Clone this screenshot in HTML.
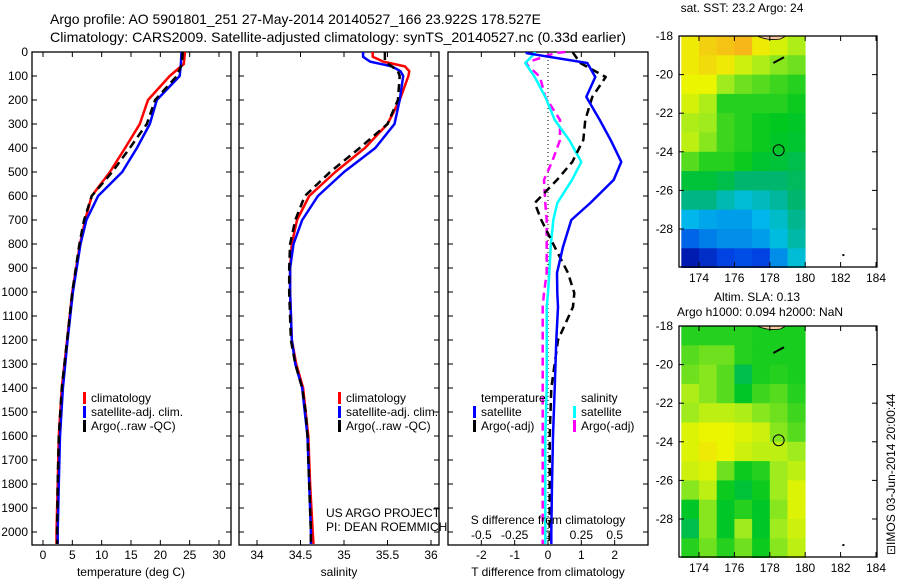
<!DOCTYPE html>
<html><head><meta charset="utf-8">
<style>
body{margin:0;background:#fff;}
svg{display:block;font-family:"Liberation Sans",sans-serif;}
</style></head>
<body>
<svg id="c" width="900" height="580" viewBox="0 0 900 580" xmlns="http://www.w3.org/2000/svg">
<text x="50" y="24" font-size="14" textLength="491" lengthAdjust="spacingAndGlyphs">Argo profile: AO 5901801_251 27-May-2014 20140527_166 23.922S 178.527E</text>
<text x="50" y="42" font-size="14" textLength="576" lengthAdjust="spacingAndGlyphs">Climatology: CARS2009. Satellite-adjusted climatology: synTS_20140527.nc (0.33d earlier)</text>
<text x="742" y="12" font-size="12" text-anchor="middle">sat. SST: 23.2 Argo: 24</text>
<text x="757" y="301" font-size="12" text-anchor="middle">Altim. SLA: 0.13</text>
<text x="760" y="316" font-size="12" text-anchor="middle">Argo h1000: 0.094 h2000: NaN</text>
<text x="0" y="0" font-size="12" transform="translate(895,555) rotate(-90)">⊡IMOS 03-Jun-2014 20:00:44</text>
<text x="326" y="517" font-size="12">US ARGO PROJECT</text>
<text x="326" y="531" font-size="12">PI: DEAN ROEMMICH</text>
<g id="g"></g>
</svg>
<script>
// ---- data ----
const depthT = [0,50,100,200,300,400,500,600,700,800,1000,1200,1400,1600,1800,2000,2050];
const tempClim = [24.2,24.0,21.6,17.9,16.5,14.0,11.4,8.3,7.2,6.3,5.0,4.1,3.2,2.7,2.5,2.3,2.3];
const tempSat  = [23.6,23.5,23.3,19.4,18.2,16.0,13.5,9.4,7.4,6.4,5.1,4.2,3.4,2.9,2.7,2.5,2.5];
const tempArgo = [23.8,23.7,22.8,19.1,17.7,14.8,11.8,8.3,7.0,6.2,5.0,4.1,3.2,2.7,2.5,2.4,2.4];
const depthS = [0,20,40,60,80,100,200,300,400,500,600,700,800,900,1000,1200,1300,1400,1500,1600,1800,2000,2050];
const salClim = [35.33,35.33,35.45,35.70,35.75,35.74,35.64,35.50,35.24,34.90,34.60,34.46,34.40,34.38,34.38,34.40,34.45,34.53,34.56,34.59,34.61,34.64,34.65];
const salSat  = [35.22,35.22,35.30,35.55,35.65,35.68,35.64,35.58,35.36,35.00,34.70,34.52,34.42,34.38,34.38,34.40,34.44,34.52,34.55,34.58,34.60,34.62,34.62];
const salArgo = [35.47,35.47,35.47,35.55,35.62,35.64,35.62,35.50,35.18,34.84,34.55,34.44,34.38,34.37,34.37,34.39,34.44,34.52,34.56,34.58,34.60,34.62,34.62];
const depthD = [0,5,46,104,187,283,367,458,533,629,700,812,921,1004,1062,1200,1400,1600,1800,2000,2050];
const dTSat  = [-0.64,-0.64,1.18,1.42,1.15,1.55,1.88,2.20,1.97,1.27,0.70,0.45,0.27,0.28,0.30,0.25,0.20,0.15,0.12,0.10,0.10];
const dTArgo = [0.76,0.76,0.97,1.73,1.33,1.12,1.06,0.73,0.27,-0.40,-0.20,0.20,0.60,0.79,0.75,0.30,0.10,0.05,0.05,0.05,0.05];
const dSSat  = [-0.10,-0.10,-0.17,-0.10,-0.02,0.05,0.16,0.25,0.18,0.07,0.04,0.02,0.01,0.00,-0.01,-0.01,-0.01,-0.02,-0.02,-0.02,-0.02];
const dSArgo = [0.13,0.05,-0.17,-0.06,-0.02,0.09,0.09,0.03,-0.03,-0.02,-0.01,-0.01,-0.01,-0.03,-0.04,-0.04,-0.04,-0.04,-0.04,-0.04,-0.04];
const depthTicks = [0,100,200,300,400,500,600,700,800,900,1000,1100,1200,1300,1400,1500,1600,1700,1800,1900,2000];
const tempTicks = [0,5,10,15,20,25,30];
const salTicks = [34,34.5,35,35.5,36];
const dTTicks = [-2,-1,0,1,2];
const dSTicks = [-0.5,-0.25,0,0.25,0.5];
const dSTickLabels = ["-0.5","-0.25","0","0.25","0.5"];
const lonTicks = [174,176,178,180,182,184];
const latTicks = [-18,-20,-22,-24,-26,-28];
const sstGrid = [
[0.80,0.84,0.86,0.88,0.80,0.75,0.70],
[0.80,0.82,0.80,0.74,0.70,0.66,0.64],
[0.78,0.78,0.68,0.64,0.62,0.60,0.58],
[0.75,0.70,0.58,0.58,0.58,0.58,0.56],
[0.70,0.68,0.60,0.58,0.56,0.55,0.54],
[0.72,0.66,0.60,0.58,0.56,0.54,0.53],
[0.62,0.58,0.58,0.56,0.53,0.52,0.50],
[0.52,0.52,0.50,0.46,0.46,0.46,0.48],
[0.44,0.44,0.40,0.37,0.39,0.42,0.46],
[0.34,0.32,0.31,0.31,0.34,0.38,0.43],
[0.24,0.27,0.29,0.29,0.31,0.36,0.41],
[0.08,0.13,0.19,0.21,0.19,0.29,0.37]];
const slaGrid = [
[0.58,0.58,0.58,0.58,0.57,0.57,0.57],
[0.62,0.64,0.64,0.58,0.57,0.57,0.57],
[0.64,0.66,0.62,0.50,0.57,0.58,0.57],
[0.70,0.66,0.62,0.54,0.60,0.62,0.58],
[0.68,0.72,0.72,0.70,0.66,0.64,0.60],
[0.76,0.78,0.78,0.76,0.74,0.66,0.62],
[0.76,0.80,0.78,0.74,0.72,0.72,0.68],
[0.74,0.76,0.64,0.56,0.58,0.68,0.72],
[0.66,0.72,0.56,0.52,0.56,0.68,0.76],
[0.54,0.66,0.54,0.58,0.54,0.66,0.76],
[0.50,0.66,0.54,0.68,0.54,0.68,0.74],
[0.58,0.64,0.58,0.64,0.56,0.66,0.72]];
const argoLon = 178.5, argoLat = -23.92;

// ---- helpers ----
const NS="http://www.w3.org/2000/svg";
const G=document.getElementById('g');
function mk(tag,attrs,parent){const e=document.createElementNS(NS,tag);for(const k in attrs)e.setAttribute(k,attrs[k]);(parent||G).appendChild(e);return e;}
function lin(d0,d1,r0,r1){return v=>r0+(v-d0)*(r1-r0)/(d1-d0);}
const TOP=52,BOT=545;
const yD=lin(0,2000,52,532);

function frame(x0,x1,y0,y1,name){
  const r=mk('rect',{x:x0,y:y0,width:x1-x0,height:y1-y0,fill:'none',stroke:'#000','stroke-width':1.3});
  
  
}
function xTicks(xs,scale,y0,y1,labels,ly,name){
  xs.forEach((v,i)=>{
    const x=scale(v);
    mk('line',{x1:x,x2:x,y1:y0,y2:y0+5,stroke:'#000'});
    mk('line',{x1:x,x2:x,y1:y1,y2:y1-5,stroke:'#000'});
    if(labels){const t=mk('text',{x:x,y:ly,'font-size':12,'text-anchor':'middle'});t.textContent=labels[i];
      
      }
  });
}
function path(xs,ys,sx,sy,color,w,dash,name){
  let d='';for(let i=0;i<xs.length;i++)d+=(i?'L':'M')+sx(xs[i]).toFixed(1)+' '+sy(ys[i]).toFixed(1);
  const p=mk('path',{d:d,fill:'none',stroke:color,'stroke-width':w,'stroke-linejoin':'round'});
  if(dash)p.setAttribute('stroke-dasharray',dash);
  
  
}
function legend(x,y,color,label,name){
  mk('rect',{x:x,y:y-10,width:3,height:12,fill:color});
  const t=mk('text',{x:x+8,y:y,'font-size':12});t.textContent=label;
  
  
}

// ---- depth axis ----
depthTicks.forEach(v=>{
  const y=yD(v);
  const t=mk('text',{x:28,y:y+4,'font-size':12,'text-anchor':'end'});t.textContent=v;
  
  
  [[32,37],[231,226],[239,244],[439,434],[448,453],[648,643]].forEach(p=>mk('line',{x1:p[0],x2:p[1],y1:y,y2:y,stroke:'#000'}));
});

// ---- panel 1 temperature ----
const xT=lin(0,30,43,219);
frame(32,231,TOP,BOT,'temperature-panel');
xTicks(tempTicks,xT,TOP,BOT,tempTicks,559,'temperature-tick-label');
path(tempClim,depthT,xT,yD,'#f00',2.5,null,'temp-climatology-line');
path(tempSat,depthT,xT,yD,'#00f',2.5,null,'temp-satellite-line');
path(tempArgo,depthT,xT,yD,'#000',2.5,'8,5','temp-argo-line');
let t=mk('text',{x:131,y:576,'font-size':12,'text-anchor':'middle'});t.textContent='temperature (deg C)';


legend(83,402,'#f00','climatology','legend-climatology');
legend(83,416,'#00f','satellite-adj. clim.','legend-satellite');
legend(83,430,'#000','Argo(..raw -QC)','legend-argo');

// ---- panel 2 salinity ----
const xS=lin(34,36,257,431);
frame(239,439,TOP,BOT,'salinity-panel');
xTicks(salTicks,xS,TOP,BOT,salTicks,559,'salinity-tick-label');
path(salClim,depthS,xS,yD,'#f00',2.5,null,'sal-climatology-line');
path(salSat,depthS,xS,yD,'#00f',2.5,null,'sal-satellite-line');
path(salArgo,depthS,xS,yD,'#000',2.5,'8,5','sal-argo-line');
t=mk('text',{x:339,y:576,'font-size':12,'text-anchor':'middle'});t.textContent='salinity';


legend(338,402,'#f00','climatology','legend-climatology-2');
legend(338,416,'#00f','satellite-adj. clim.','legend-satellite-2');
legend(338,430,'#000','Argo(..raw -QC)','legend-argo-2');

// ---- panel 3 differences ----
const xdT=lin(-3,3,448,648), xdS=lin(-0.75,0.75,448,648);
frame(448,648,TOP,BOT,'difference-panel');
mk('line',{x1:548,x2:548,y1:TOP,y2:BOT,stroke:'#000','stroke-dasharray':'1,3'});
xTicks(dTTicks,xdT,TOP,BOT,dTTicks,559,'t-diff-tick-label');
dSTicks.forEach((v,i)=>{const tt=mk('text',{x:xdS(v),y:539,'font-size':12,'text-anchor':'middle'});tt.textContent=dSTickLabels[i];
  
  });
path(dSArgo,depthD,xdS,yD,'#f0f',2.5,'8,5','s-argo-diff-line');
path(dSSat,depthD,xdS,yD,'#0ff',2.5,null,'s-satellite-diff-line');
path(dTArgo,depthD,xdT,yD,'#000',2.5,'8,5','t-argo-diff-line');
path(dTSat,depthD,xdT,yD,'#00f',2.5,null,'t-satellite-diff-line');
t=mk('text',{x:548,y:524,'font-size':12,'text-anchor':'middle'});t.textContent='S difference from climatology';


t=mk('text',{x:548,y:576,'font-size':12,'text-anchor':'middle'});t.textContent='T difference from climatology';


t=mk('text',{x:481,y:402,'font-size':12});t.textContent='temperature';


t=mk('text',{x:581,y:402,'font-size':12});t.textContent='salinity';


legend(473,416,'#00f','satellite','legend-t-satellite');
legend(473,430,'#000','Argo(-adj)','legend-t-argo');
legend(573,416,'#0ff','satellite','legend-s-satellite');
legend(573,430,'#f0f','Argo(-adj)','legend-s-argo');

// ---- maps ----
function cmap(v){
  const stops=[[0,[0,0,140]],[0.2,[0,70,230]],[0.35,[0,190,235]],[0.45,[0,180,120]],[0.55,[0,200,30]],[0.68,[160,235,30]],[0.78,[235,245,0]],[0.9,[250,170,30]],[1,[240,100,0]]];
  for(let i=1;i<stops.length;i++){if(v<=stops[i][0]){const a=stops[i-1],b=stops[i],f=(v-a[0])/(b[0]-a[0]);
    return 'rgb('+a[1].map((c,k)=>Math.round(c+(b[1][k]-c)*f)).join(',')+')';}}
  return 'rgb(240,100,0)';
}
function map(top,bot,grid,name){
  const xL=lin(174,184,699,876);
  const yL=lin(-18,-28,top,top+(bot-top)*10/11.97);
  grid.forEach((row,r)=>row.forEach((v,c)=>{
    const x0=xL(173+c),x1=xL(174+c),y0=yL(-18-r),y1=yL(-19-r);
    const cell=mk('rect',{x:x0.toFixed(1),y:y0.toFixed(1),width:(x1-x0+0.4).toFixed(1),height:(y1-y0+0.4).toFixed(1),fill:cmap(v)});
    
    
  }));
  mk('path',{d:`M${xL(177.3)} ${top} Q${xL(177.9)} ${top+5} ${xL(178.6)} ${top+3} L${xL(178.9)} ${top}Z`,fill:'#f8c8a0',stroke:'#000','stroke-width':0.8});
  mk('path',{d:`M${xL(178.2)} ${yL(-19.4)} L${xL(178.8)} ${yL(-19.1)}`,stroke:'#000','stroke-width':2});
  mk('rect',{x:xL(182.1),y:yL(-29.3),width:2,height:2,fill:'#000'});
  const ci=mk('circle',{cx:xL(argoLon),cy:yL(argoLat),r:5.5,fill:'none',stroke:'#000'});
  
  
  frame(679,877,top,bot,name+'-frame');
  xTicks(lonTicks,xL,top,bot,lonTicks,bot+15,name+'-lon-label');
  latTicks.forEach(v=>{const y=yL(v);
    mk('line',{x1:679,x2:684,y1:y,y2:y,stroke:'#000'});mk('line',{x1:877,x2:872,y1:y,y2:y,stroke:'#000'});
    const tt=mk('text',{x:673,y:y+4,'font-size':12,'text-anchor':'end'});tt.textContent=v;
    
    });
}
map(36,267,sstGrid,'sst-map');
map(326,557,slaGrid,'sla-map');
</script>
</body></html>
